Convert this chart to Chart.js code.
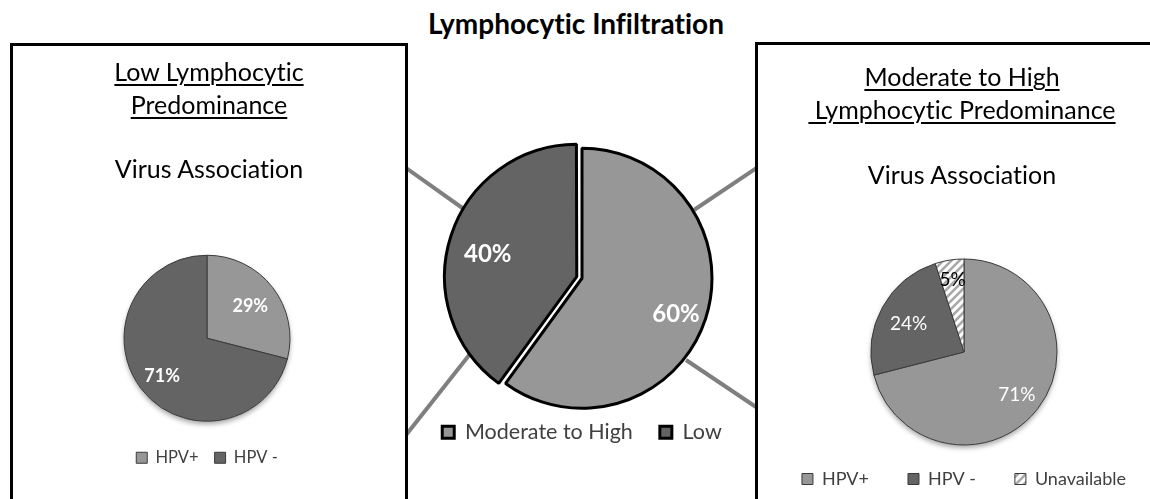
<!DOCTYPE html>
<html><head><meta charset="utf-8">
<script src="https://cdn.jsdelivr.net/npm/chart.js@4.4.1/dist/chart.umd.min.js"></script>
<style>
html,body{margin:0;padding:0;background:#fff;}
body{width:1150px;height:499px;position:relative;overflow:hidden;font-family:Lato,'Open Sans',sans-serif;color:#000;font-variant-ligatures:none;}
.box{position:absolute;border:3px solid #000;box-sizing:border-box;z-index:2;}
.ttl{position:absolute;text-align:center;font-size:25px;line-height:33px;white-space:nowrap;z-index:3;}
.u{text-decoration:underline;text-decoration-thickness:2px;text-underline-offset:3px;}
canvas{position:absolute;z-index:1;}
</style></head><body>
<div class="ttl" style="left:326px;width:500px;top:7px;font-weight:bold;font-size:28px;">Lymphocytic Infiltration</div>

<div class="ttl" style="left:10px;width:398px;top:55px;"><span class="u">Low Lymphocytic</span><br><span class="u">Predominance</span></div>
<div class="ttl" style="left:10px;width:398px;top:152px;">Virus Association</div>

<div class="ttl" style="left:762px;width:400px;top:60px;"><span class="u">Moderate to High</span><br><span class="u">&nbsp;Lymphocytic Predominance</span></div>
<div class="ttl" style="left:762px;width:400px;top:158px;">Virus Association</div>

<canvas id="cLow" width="386" height="233" style="left:14px;top:243px;"></canvas>
<canvas id="cMid" width="348" height="360" style="left:408px;top:140px;"></canvas>
<canvas id="cHigh" width="420" height="249" style="left:754px;top:250px;"></canvas>

<div class="box" style="left:10px;top:43px;width:398px;height:520px;"></div>
<div class="box" style="left:755px;top:42px;width:420px;height:520px;"></div>

<script>
// ---- data ----
const midLabels = ['Moderate to High', 'Low'];
const midValues = [60, 40];
const lowLabels = ['HPV+', 'HPV -'];
const lowValues = [29, 71];
const highLabels = ['HPV+', 'HPV -', 'Unavailable'];
const highValues = [71, 24, 5];

const FONT = 'Lato, "Open Sans", sans-serif';
const LIGHT = '#979797';
const DARK = '#646464';

function hatchPattern() {
  const c = document.createElement('canvas');
  c.width = 8; c.height = 8;
  const g = c.getContext('2d');
  g.fillStyle = '#fff'; g.fillRect(0, 0, 8, 8);
  g.strokeStyle = '#a8a8a8'; g.lineWidth = 2.6;
  g.beginPath();
  g.moveTo(-2, 10); g.lineTo(10, -2);
  g.moveTo(-2, 2); g.lineTo(2, -2);
  g.moveTo(6, 10); g.lineTo(10, 6);
  g.stroke();
  return g.createPattern(c, 'repeat');
}

function makePctLabels(id, cfg) {
  return {
    id: id,
    afterDatasetsDraw(chart) {
      const meta = chart.getDatasetMeta(0);
      const ds = chart.data.datasets[0];
      const ctx = chart.ctx;
      ctx.save();
      ctx.textAlign = 'center';
      ctx.textBaseline = 'middle';
      ctx.font = cfg.font;
      (meta.data || []).forEach((arc, i) => {
        const p = arc.getProps(['x', 'y', 'startAngle', 'endAngle', 'outerRadius'], true);
        const mid = (p.startAngle + p.endAngle) / 2;
        const off = (arc.options.offset || 0) / 4;
        const d = p.outerRadius * cfg.radii[i] + off;
        const nudge = cfg.nudge ? cfg.nudge[i] : [0, 0];
        ctx.fillStyle = cfg.colors[i];
        ctx.fillText(ds.data[i] + '%', p.x + Math.cos(mid) * d + nudge[0], p.y + Math.sin(mid) * d + nudge[1]);
      });
      ctx.restore();
    }
  };
}

function makeShadow(id) {
  return {
    id: id,
    beforeDatasetsDraw(chart) {
      const arc = chart.getDatasetMeta(0).data[0];
      if (!arc) return;
      const ctx = chart.ctx;
      ctx.save();
      ctx.shadowColor = 'rgba(0,0,0,0.35)';
      ctx.shadowBlur = 5;
      ctx.shadowOffsetY = 3;
      ctx.beginPath();
      ctx.arc(arc.x, arc.y, arc.outerRadius, 0, Math.PI * 2);
      ctx.fillStyle = '#fff';
      ctx.fill();
      ctx.restore();
    }
  };
}

// decorative connector strokes (canvas pixels of the middle chart)
const connectorStrokes = [[-2, 28, 60, 72], [-2, 295, 62, 214], [350, 27, 286, 70], [348, 267, 278, 220]];
const connectors = {
  id: 'connectorsDeco',
  beforeDatasetsDraw(chart) {
    const ctx = chart.ctx;
    ctx.save();
    ctx.strokeStyle = '#7f7f7f';
    ctx.lineWidth = 4;
    connectorStrokes.forEach(s => {
      ctx.beginPath();
      ctx.moveTo(s[0], s[1]);
      ctx.lineTo(s[2], s[3]);
      ctx.stroke();
    });
    ctx.restore();
  }
};

function legendOpts(size, box, pad) {
  return { position: 'bottom', labels: { boxWidth: box, boxHeight: box, padding: pad, color: '#404040', font: { family: FONT, size: size } } };
}

new Chart(document.getElementById('cLow'), {
  type: 'pie',
  data: {
    labels: lowLabels,
    datasets: [{ data: lowValues, backgroundColor: [LIGHT, DARK], borderColor: '#3a3a3a', borderWidth: 1, radius: 83 }]
  },
  options: {
    responsive: false, animation: false, events: [],
    layout: { padding: { top: 0, bottom: 0 } },
    plugins: { tooltip: { enabled: false }, legend: legendOpts(16.5, 11, 16) }
  },
  plugins: [makeShadow('shadowLow'), makePctLabels('pctLow', { font: 'bold 18px ' + FONT, colors: ['#fff', '#fff'], radii: [0.66, 0.7], nudge: [[0, 2], [1, 2]] })]
});

new Chart(document.getElementById('cMid'), {
  type: 'pie',
  data: {
    labels: midLabels,
    datasets: [{ data: midValues, backgroundColor: [LIGHT, DARK], borderColor: '#000', borderWidth: 3, offset: [0, 22], radius: 130 }]
  },
  options: {
    responsive: false, animation: false, events: [],
    layout: { padding: { top: 22, bottom: 47, left: 0, right: 0 } },
    plugins: { tooltip: { enabled: false }, legend: legendOpts(21.5, 12, 27) }
  },
  plugins: [connectors, makePctLabels('pctMid', { font: 'bold 24px ' + FONT, colors: ['#fff', '#fff'], radii: [0.76, 0.72], nudge: [[0, 5], [0, 7]] })]
});

new Chart(document.getElementById('cHigh'), {
  type: 'pie',
  data: {
    labels: highLabels,
    datasets: [{ data: highValues, backgroundColor: [LIGHT, DARK, hatchPattern()], borderColor: '#3a3a3a', borderWidth: 1, radius: 93 }]
  },
  options: {
    responsive: false, animation: false, events: [],
    layout: { padding: { top: 23, bottom: 1, left: 0, right: 0 } },
    plugins: { tooltip: { enabled: false }, legend: legendOpts(18, 11, 39) }
  },
  plugins: [makeShadow('shadowHigh'), makePctLabels('pctHigh', { font: '19px ' + FONT, colors: ['#fff', '#fff', '#000'], radii: [0.72, 0.68, 0.78], nudge: [[0, 2], [0, 2], [0, 0]] })]
});
</script>
</body></html>
